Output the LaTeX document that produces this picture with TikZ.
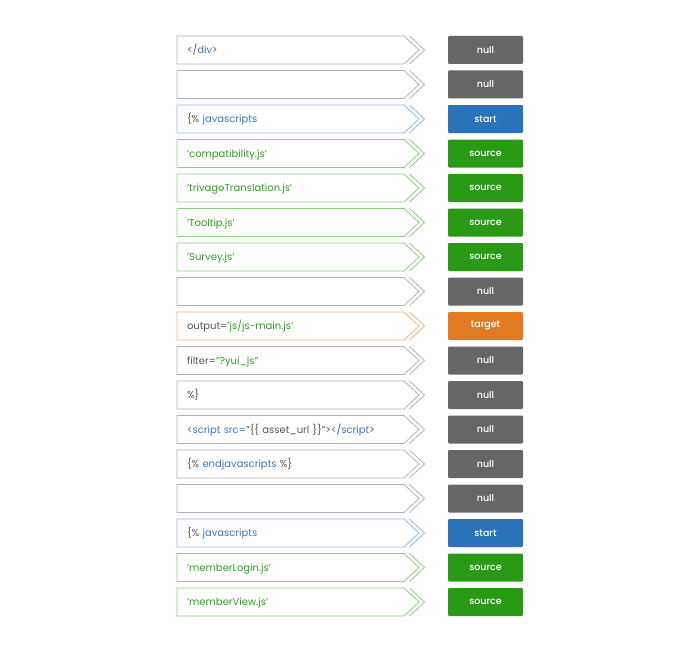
\documentclass[tikz,border=0pt]{standalone}
\usepackage{fontspec}
\setmainfont{Poppins}
\newfontfamily\tagfont{Poppins Medium}
\usepackage{xcolor}
\usetikzlibrary{positioning,calc}
\definecolor{nullfill}{HTML}{666666}
\definecolor{startfill}{HTML}{2B73B8}
\definecolor{sourcefill}{HTML}{2A9A16}
\definecolor{targetfill}{HTML}{E27A22}
\definecolor{nullline}{HTML}{B2B2B2}
\definecolor{startline}{HTML}{93B6DD}
\definecolor{sourceline}{HTML}{8FCB83}
\definecolor{targetline}{HTML}{F2B584}
\definecolor{codegray}{HTML}{555555}
\definecolor{codeblue}{HTML}{3A77BF}
\definecolor{codegreen}{HTML}{2E9E20}
\newcommand{\kw}[1]{\textcolor{codeblue}{#1}}
\newcommand{\str}[1]{\textcolor{codegreen}{#1}}
\tikzset{code/.style={inner xsep=10pt,inner ysep=0pt,outer sep=0pt,text width=207pt,align=left,minimum height=28pt,text height=8pt,text depth=1pt,font=\fontsize{10}{12}\selectfont,text=codegray},
  tag/.style={fill=#1fill,text=white,minimum width=75pt,minimum height=28pt,inner sep=0pt,outer sep=0pt,rounded corners=1.2pt,font=\tagfont\fontsize{9.5}{11}\selectfont},
  outline/.style={draw=#1line,line width=0.8pt}}

\begin{document}
\begin{tikzpicture}[node distance = 6.5pt]
  \useasboundingbox (0,0) rectangle (700pt,-650pt);
  \node[code,anchor=north west] (c1) at (177pt,-36pt) {</\kw{div}>};
  \node[code,below=of c1] (c2) {};
  \node[code,below=of c2] (c3) {\{\% \kw{javascripts}};
  \node[code,below=of c3] (c4) {\str{'compatibility.js'}};
  \node[code,below=of c4] (c5) {\str{'trivagoTranslation.js'}};
  \node[code,below=of c5] (c6) {\str{'Tooltip.js'}};
  \node[code,below=of c6] (c7) {\str{'Survey.js'}};
  \node[code,below=of c7] (c8) {};
  \node[code,below=of c8] (c9) {output=\str{'js/js-main.js'}};
  \node[code,below=of c9] (c10) {filter=\str{”?yui\_js”}};
  \node[code,below=of c10] (c11) {\%\}};
  \node[code,below=of c11] (c12) {<\kw{script src=}”\{\{ asset\_url \}\}”></\kw{script}>};
  \node[code,below=of c12] (c13) {\{\% \kw{endjavascripts} \%\}};
  \node[code,below=of c13] (c14) {};
  \node[code,below=of c14] (c15) {\{\% \kw{javascripts}};
  \node[code,below=of c15] (c16) {\str{'memberLogin.js'}};
  \node[code,below=of c16] (c17) {\str{'memberView.js'}};

  % tags on the right
  \foreach \n/\k in {1/null,2/null,3/start,4/source,5/source,6/source,7/source,8/null,9/target,
    10/null,11/null,12/null,13/null,14/null,15/start,16/source,17/source} {
    \node[tag=\k,right=44pt of c\n] (t\n) {\k};
    \draw[outline=\k] (c\n.north west) -- (c\n.north east) -- ($(c\n.east)+(15pt,0)$)
      -- (c\n.south east) -- (c\n.south west) -- cycle;
    \draw[outline=\k] ($(c\n.north east)+(5.5pt,0)$) -- ($(c\n.east)+(20.5pt,0)$)
      -- ($(c\n.south east)+(5.5pt,0)$);
  }
\end{tikzpicture}
\end{document}
